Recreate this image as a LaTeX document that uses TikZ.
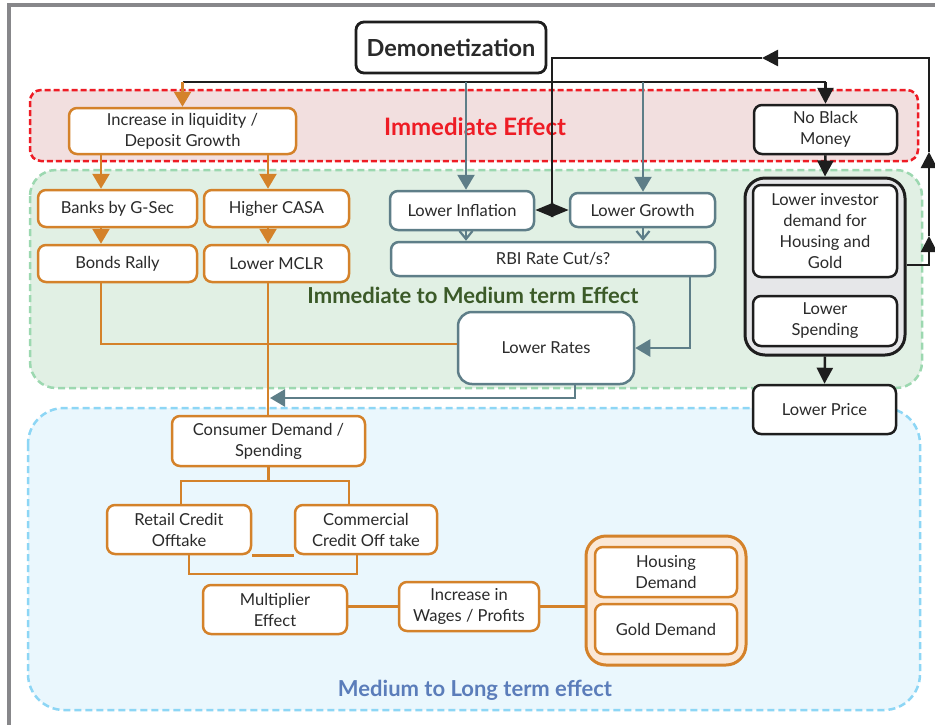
\documentclass[tikz,border=0pt]{standalone}
\usepackage{fontspec}
\setmainfont{Lato}
\usetikzlibrary{arrows.meta,calc}
\definecolor{org}{HTML}{D4822A}
\definecolor{stl}{HTML}{5E7E88}
\definecolor{blk}{HTML}{1E1E1E}
\definecolor{txt}{HTML}{2A2A2A}
\definecolor{redd}{HTML}{EE1C25}
\definecolor{redf}{HTML}{F2DFDF}
\definecolor{grnd}{HTML}{9CD8B0}
\definecolor{grnf}{HTML}{E1F0E4}
\definecolor{blud}{HTML}{8DD6F5}
\definecolor{bluf}{HTML}{EAF7FD}
\definecolor{orgf}{HTML}{FBE8D6}
\definecolor{grayf}{HTML}{E6E7E9}
\definecolor{framec}{HTML}{87878A}
\definecolor{grntxt}{HTML}{3B5A28}
\definecolor{blutxt}{HTML}{5B7DBA}
\tikzset{
  box/.style={draw, rounded corners=8pt, line width=2.5pt, fill=white, align=center,
    inner sep=0pt, text=txt, font=\fontsize{16.5}{21}\selectfont},
  obox/.style={box, draw=org},
  sbox/.style={box, draw=stl},
  kbox/.style={box, draw=blk},
  oline/.style={draw=org, line width=2.5pt},
  oarr/.style={oline, -{Triangle[length=15pt,width=17pt]}},
  sline/.style={draw=stl, line width=2.5pt},
  sarr/.style={sline, -{Triangle[length=15pt,width=17pt]}},
  sbarb/.style={sline, -{Straight Barb[length=8pt,width=13pt,line width=2.2pt]}},
  kline/.style={draw=blk, line width=2.5pt},
  karr/.style={kline, -{Triangle[length=16pt,width=16pt]}},
  region/.style={line width=2.5pt, dash pattern=on 7pt off 4pt},
  ttl/.style={font=\bfseries\fontsize{22}{26}\selectfont}
}
\begin{document}
\begin{tikzpicture}[x=1pt,y=-1pt]
\useasboundingbox (0,0) rectangle (935,724);
\fill[white] (0,0) rectangle (935,724);
\draw[framec, line width=4pt] (9,726) -- (9,5) -- (937,5);

% regions
\draw[region, draw=redd, fill=redf, rounded corners=11pt, dash pattern=on 6pt off 3pt] (30,90) rectangle (918,161);
\draw[region, draw=grnd, fill=grnf, rounded corners=26pt] (30,170) rectangle (922,388);
\draw[region, draw=blud, fill=bluf, rounded corners=36pt] (28,408) rectangle (920,710);

\node[ttl, text=redd, font=\bfseries\fontsize{24}{28}\selectfont] (lab1) at (475,127) {Immediate Effect};
\node[ttl, text=grntxt] (lab2) at (473,295) {Immediate to Medium term Effect};
\node[ttl, text=blutxt] (lab3) at (475,690) {Medium to Long term effect};

% containers
\node[draw=blk, fill=grayf, line width=3pt, rounded corners=20pt, minimum width=160pt, minimum height=177pt] (gray) at (825,266.5) {};
\node[draw=org, fill=orgf, line width=3pt, rounded corners=20pt, minimum width=160pt, minimum height=129pt] (ocont) at (666,600.5) {};

% nodes
\node[kbox, line width=2.8pt, font=\bfseries\fontsize{23.5}{27}\selectfont, minimum width=190pt, minimum height=51pt] (demo) at (451,47.5) {Demonetization};
\node[obox, minimum width=227pt, minimum height=46pt] (liq) at (182.5,131) {Increase in liquidity /\\Deposit Growth};
\node[kbox, minimum width=143pt, minimum height=49pt] (nbm) at (825.5,129.5) {No Black\\Money};
\node[obox, minimum width=159pt, minimum height=37pt] (gsec) at (117.5,208.5) {Banks by G-Sec};
\node[obox, minimum width=145pt, minimum height=37pt] (casa) at (276.5,208.5) {Higher CASA};
\node[obox, minimum width=159pt, minimum height=37pt] (bonds) at (117.5,263.5) {Bonds Rally};
\node[obox, minimum width=145pt, minimum height=37pt] (mclr) at (276.5,263.5) {Lower MCLR};
\node[sbox, minimum width=144pt, minimum height=39pt] (infl) at (462,210.5) {Lower Inflation};
\node[sbox, minimum width=145pt, minimum height=34pt] (growth) at (642.5,210) {Lower Growth};
\node[sbox, minimum width=324pt, minimum height=34pt] (rbi) at (553,259) {RBI Rate Cut/s?};
\node[sbox, rounded corners=14pt, minimum width=176pt, minimum height=72pt] (rates) at (546,348) {Lower Rates};
\node[kbox, minimum width=144pt, minimum height=92pt] (invest) at (825,231) {Lower investor\\demand for\\Housing and\\Gold};
\node[kbox, minimum width=144pt, minimum height=50pt] (spend) at (825,321) {Lower\\Spending};
\node[kbox, minimum width=143pt, minimum height=49pt] (price) at (824.5,409.5) {Lower Price};
\node[obox, minimum width=193pt, minimum height=50pt] (cons) at (268.5,441) {Consumer Demand /\\Spending};
\node[obox, minimum width=144pt, minimum height=49pt] (retail) at (179,529.5) {Retail Credit\\Offtake};
\node[obox, minimum width=142pt, minimum height=49pt] (comm) at (366,529.5) {Commercial\\Credit Off take};
\node[obox, minimum width=144pt, minimum height=49pt] (mult) at (275,609.5) {Multiplier\\Effect};
\node[obox, minimum width=140pt, minimum height=49pt] (wages) at (469,606.5) {Increase in\\Wages / Profits};
\node[obox, minimum width=142pt, minimum height=50pt] (house) at (666,572) {Housing\\Demand};
\node[obox, minimum width=142pt, minimum height=50pt] (gold) at (666,629) {Gold Demand};

% coordinates
\coordinate (dl) at (182.5,82);
\coordinate (dr) at (825.5,82);
\coordinate (c466) at (466,82);
\coordinate (c643) at (643,82);
\coordinate (a1) at (101,0);
\coordinate (a2) at (268,0);
\coordinate (a3) at (575,398);
\coordinate (a4) at (690,0);
\coordinate (b1) at (270,398);
\coordinate (r1) at (929,265);
\coordinate (k1) at (929,236);
\coordinate (k2) at (929,152);
\coordinate (k3) at (929,58);
\coordinate (k4) at (762,58);
\coordinate (k5) at (552,58);
\coordinate (k6) at (552,210);
\coordinate (t1) at (181,481);
\coordinate (t2) at (349,481);
\coordinate (u1) at (189,574);
\coordinate (u2) at (357,574);

% demonetization fan-out
\draw[kline] (dl) -- (dr);
\draw[oarr] (dl) -- (liq.north);
\draw[sarr] (c466) -- (c466 |- infl.north);
\draw[sarr] (c643) -- (c643 |- growth.north);
\draw[karr] (dr) -- (nbm.north);

% black right column
\draw[karr] (nbm.south) -- (gray.north);
\draw[karr] (gray.south) -- (price.north);
\draw[karr] (gray.east |- r1) -- (r1) -- (k1);
\draw[karr] (k1) -- (k2);
\draw[karr] (k2) -- (k3) -- (k4);
\draw[kline] (k4) -- (k5) -- (k6);
\draw[kline, {Triangle[length=18pt,width=14pt]}-{Triangle[length=18pt,width=14pt]}] (infl.east |- k6) -- (growth.west |- k6);

% orange upper
\draw[oarr] (liq.south -| a1) -- (gsec.north -| a1);
\draw[oarr] (liq.south -| a2) -- (casa.north -| a2);
\draw[oarr] (gsec.south -| a1) -- (bonds.north -| a1);
\draw[oarr] (casa.south -| a2) -- (mclr.north -| a2);
\draw[oline] (bonds.south -| a1) |- ($(rates.west)+(0,-4)$);
\draw[oline] (mclr.south -| a2) -- (cons.north -| a2);

% steel
\draw[sbarb] (infl.south -| c466) -- (rbi.north -| c466);
\draw[sbarb] (growth.south -| c643) -- (rbi.north -| c643);
\draw[sarr] (rbi.south -| a4) |- (rates.east);
\draw[sarr] (rates.south -| a3) -- (a3) -- (b1);

% orange lower
\draw[oline] (cons.south) -- (cons.south |- t1);
\draw[oline] (retail.north -| t1) -- (t1) -- (t2) -- (comm.north -| t2);
\draw[oline] (retail.south -| u1) -- (u1) -- (u2) -- (comm.south -| u2);
\draw[oline] (retail.south east) -- (comm.south west);
\draw[oline] (wages.west) -- (wages.west -| mult.east);
\draw[oline] (wages.east) -- (wages.east -| ocont.west);
\end{tikzpicture}
\end{document}
